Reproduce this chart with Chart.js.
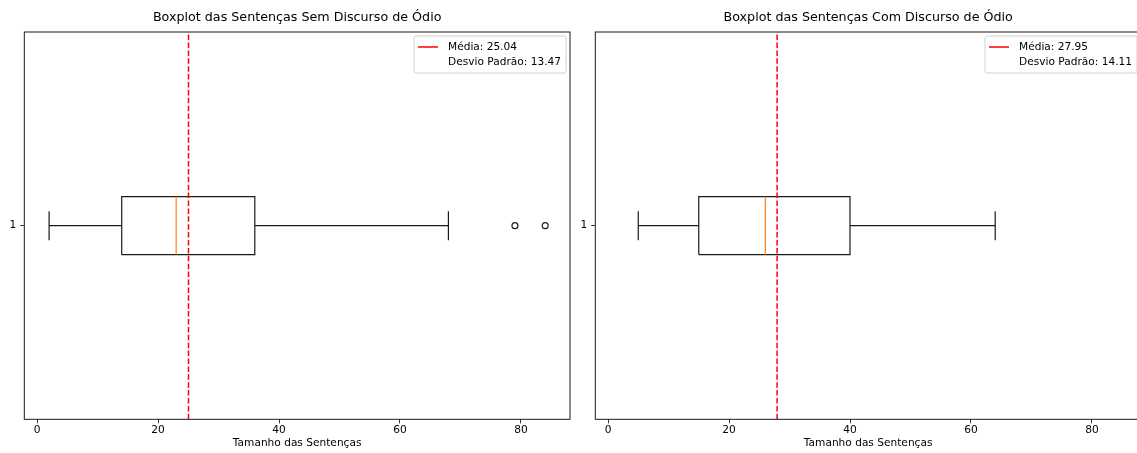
<!DOCTYPE html>
<html>
<head>
<meta charset="utf-8">
<script src="https://cdn.jsdelivr.net/npm/chart.js@4"></script>
<style>
  html, body { margin: 0; padding: 0; background: #fff; overflow: hidden; width: 1137px; height: 453px; }
  canvas { position: absolute; top: 0; }
  #leftChart { left: 0; }
  #rightChart { left: 571px; }
</style>
</head>
<body>
<canvas id="leftChart" width="580" height="453"></canvas>
<canvas id="rightChart" width="580" height="453"></canvas>
<script>
// values
const panelTitles = ['Boxplot das Sentenças Sem Discurso de Ódio', 'Boxplot das Sentenças Com Discurso de Ódio'];
const whiskerLow = [2, 5];
const q1 = [14, 15];
const median = [23, 26];
const q3 = [36, 40];
const whiskerHigh = [68, 64];
const outliers = [[79, 84], []];
const means = [25.04, 27.95];
const stdDevs = [13.47, 14.11];
const xTicks = [0, 20, 40, 60, 80];
const yTicks = [1];

Chart.defaults.font.family = '"DejaVu Sans", sans-serif';
Chart.defaults.color = '#000';

const BOX_HALF = 0.075;
const CAP_HALF = 0.0375;
const SMALL = 10.6;

function segment(points, color, width, dash) {
  return {
    data: points,
    showLine: true,
    borderColor: color,
    borderWidth: width,
    borderDash: dash || [],
    pointRadius: 0,
    pointHoverRadius: 0,
    fill: false,
    tension: 0
  };
}

// axes frame (all four spines)
const framePlugin = {
  id: 'frame',
  afterDatasetsDraw(chart) {
    const { ctx, chartArea: a } = chart;
    ctx.save();
    ctx.strokeStyle = '#1a1a1a';
    ctx.lineWidth = 1;
    ctx.strokeRect(a.left, a.top, a.right - a.left, a.bottom - a.top);
    ctx.restore();
  }
};

// title centred over the axes rather than the whole canvas
const axesTitlePlugin = {
  id: 'axesTitle',
  afterDraw(chart, args, opts) {
    const { ctx, chartArea: a } = chart;
    ctx.save();
    ctx.font = '12.7px "DejaVu Sans"';
    ctx.fillStyle = '#000';
    ctx.textAlign = 'center';
    ctx.textBaseline = 'middle';
    ctx.fillText(opts.text, (a.left + a.right) / 2, 17.6);
    ctx.restore();
  }
};

// legend box in the upper right corner, like matplotlib's loc='upper right'
const boxLegendPlugin = {
  id: 'boxLegend',
  afterDraw(chart, args, opts) {
    const { ctx, chartArea: a } = chart;
    const lines = opts.lines;
    ctx.save();
    ctx.font = SMALL + 'px "DejaVu Sans"';
    const tw = Math.max(...lines.map(t => ctx.measureText(t).width));
    const w = 4 + 20 + 10 + tw + 5;
    const h = 37;
    const x = a.right - 4 - w;
    const y = a.top + 4;
    ctx.fillStyle = 'rgba(255,255,255,0.8)';
    ctx.strokeStyle = '#d0d0d0';
    ctx.lineWidth = 1;
    ctx.beginPath();
    ctx.roundRect(x, y, w, h, 2);
    ctx.fill();
    ctx.stroke();
    // red handle for the mean
    ctx.strokeStyle = 'red';
    ctx.lineWidth = 1.5;
    ctx.beginPath();
    ctx.moveTo(x + 4, y + 11);
    ctx.lineTo(x + 24, y + 11);
    ctx.stroke();
    ctx.fillStyle = '#000';
    ctx.textBaseline = 'middle';
    ctx.fillText(lines[0], x + 34, y + 11);
    ctx.fillText(lines[1], x + 34, y + 26);
    ctx.restore();
  }
};

function makeChart(canvasId, i) {
  const datasets = [
    // mean line on top
    segment([{ x: means[i], y: 0.5 }, { x: means[i], y: 1.5 }], 'red', 1.5, [5.5, 2.4]),
    // median
    segment([{ x: median[i], y: 1 - BOX_HALF }, { x: median[i], y: 1 + BOX_HALF }], '#ff7f0e', 1.2),
    // box
    segment([
      { x: q1[i], y: 1 - BOX_HALF }, { x: q3[i], y: 1 - BOX_HALF },
      { x: q3[i], y: 1 + BOX_HALF }, { x: q1[i], y: 1 + BOX_HALF },
      { x: q1[i], y: 1 - BOX_HALF }
    ], '#1a1a1a', 1.2),
    // whiskers
    segment([{ x: whiskerLow[i], y: 1 }, { x: q1[i], y: 1 }], '#1a1a1a', 1.2),
    segment([{ x: q3[i], y: 1 }, { x: whiskerHigh[i], y: 1 }], '#1a1a1a', 1.2),
    // caps
    segment([{ x: whiskerLow[i], y: 1 - CAP_HALF }, { x: whiskerLow[i], y: 1 + CAP_HALF }], '#1a1a1a', 1.2),
    segment([{ x: whiskerHigh[i], y: 1 - CAP_HALF }, { x: whiskerHigh[i], y: 1 + CAP_HALF }], '#1a1a1a', 1.2),
    // fliers
    {
      data: outliers[i].map(v => ({ x: v, y: 1 })),
      showLine: false,
      pointStyle: 'circle',
      pointRadius: 3,
      pointHoverRadius: 3,
      borderColor: '#1a1a1a',
      backgroundColor: '#fff',
      borderWidth: 1.1
    }
  ];

  new Chart(document.getElementById(canvasId), {
    type: 'scatter',
    data: { datasets: datasets },
    options: {
      responsive: false,
      animation: false,
      events: [],
      layout: { padding: { left: 0, right: 10, top: 32, bottom: 0 } },
      plugins: {
        legend: { display: false },
        tooltip: { enabled: false },
        title: { display: false },
        axesTitle: { text: panelTitles[i] },
        boxLegend: {
          lines: ['Média: ' + means[i].toFixed(2), 'Desvio Padrão: ' + stdDevs[i].toFixed(2)]
        }
      },
      scales: {
        x: {
          type: 'linear',
          min: -2.1,
          max: 88.1,
          afterBuildTicks: scale => { scale.ticks = xTicks.map(v => ({ value: v })); },
          afterFit: scale => { scale.height = 33.7; },
          border: { display: false },
          grid: { display: true, drawOnChartArea: false, drawTicks: true, tickLength: 4, color: '#333' },
          ticks: { font: { size: SMALL }, color: '#000', padding: 1, maxRotation: 0 },
          title: {
            display: true,
            text: 'Tamanho das Sentenças',
            font: { size: SMALL },
            color: '#000',
            padding: { top: 0, bottom: 3 }
          }
        },
        y: {
          type: 'linear',
          min: 0.5,
          max: 1.5,
          afterBuildTicks: scale => { scale.ticks = yTicks.map(v => ({ value: v })); },
          afterFit: scale => { scale.width = 24.3; },
          border: { display: false },
          grid: { display: true, drawOnChartArea: false, drawTicks: true, tickLength: 4, color: '#333' },
          ticks: { font: { size: SMALL }, color: '#000', padding: 4, callback: v => String(v) }
        }
      }
    },
    plugins: [framePlugin, axesTitlePlugin, boxLegendPlugin]
  });
}

makeChart('leftChart', 0);
makeChart('rightChart', 1);
</script>
</body>
</html>
